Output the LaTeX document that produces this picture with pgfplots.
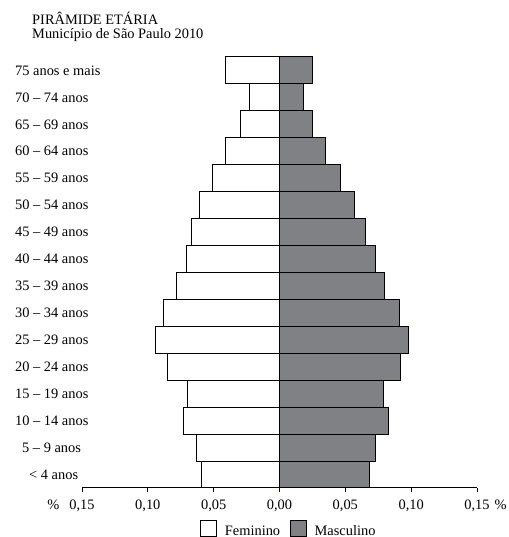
\documentclass[border=0pt]{standalone}
\usepackage{pgfplots}
\pgfplotsset{compat=1.18}
\usepackage{pgfplotstable}
\usepackage{fontspec}
\setmainfont{Liberation Serif}
\definecolor{masc}{RGB}{128,129,133}

\pgfplotsset{boxlegend/.style={legend image code/.code={\draw[##1] (0pt,-5.5pt) rectangle (16pt,10.5pt);}}}

% female values negative so they go left
\pgfplotstableread{
y fem masc
0 -0.059 0.068
1 -0.063 0.073
2 -0.073 0.083
3 -0.070 0.079
4 -0.085 0.092
5 -0.094 0.098
6 -0.088 0.091
7 -0.078 0.080
8 -0.071 0.073
9 -0.067 0.065
10 -0.061 0.057
11 -0.051 0.046
12 -0.041 0.035
13 -0.030 0.025
14 -0.023 0.018
15 -0.041 0.025
}\piramide

\begin{document}
\begin{tikzpicture}
\begin{axis}[
    at={(82pt,49pt)}, anchor=south west,
    scale only axis, width=395pt, height=431pt,
    xmin=-0.15, xmax=0.15, ymin=-0.5, ymax=15.5,
    axis x line*=bottom, axis y line*=left,
    y axis line style={draw=none},
    x axis line style={line width=1pt},
    xtick={-0.15,-0.10,-0.05,0,0.05,0.10,0.15},
    xticklabels={{\llap{\%\hspace{10pt}}0,15},{0,10},{0,05},{0,00},{0,05},{0,10},{0,15\rlap{\hspace{5pt}\%}}},
    xticklabel style={yshift=-4pt},
    x tick style={line width=1pt, black},
    tick align=outside, major tick length=4pt,
    ytick={0,...,15},
    yticklabels={{\hspace*{14pt}< 4 anos},{\hspace*{7pt}5 – 9 anos},{10 – 14 anos},{15 – 19 anos},{20 – 24 anos},{25 – 29 anos},{30 – 34 anos},{35 – 39 anos},{40 – 44 anos},{45 – 49 anos},{50 – 54 anos},{55 – 59 anos},{60 – 64 anos},{65 – 69 anos},{70 – 74 anos},{75 anos e mais}},
    y tick style={draw=none},
    yticklabel style={anchor=west, xshift=-63pt, inner xsep=0pt},
    ticklabel style={font=\fontsize{14.4}{16}\selectfont},
    legend style={at={(0.524,-0.074)}, anchor=north, draw=none, inner sep=0pt,
        legend columns=2, font=\fontsize{14.4}{16}\selectfont,
        /tikz/every odd column/.append style={column sep=5.5pt},
        /tikz/every even column/.append style={column sep=8pt}},
]
\addplot[xbar, bar width=1, bar shift=0pt, fill=white, draw=black, line width=1pt, boxlegend]
    table[x=fem, y=y] {\piramide};
\addplot[xbar, bar width=1, bar shift=0pt, fill=masc, draw=black, line width=1pt, boxlegend]
    table[x=masc, y=y] {\piramide};
\legend{Feminino, Masculino}
\end{axis}
\node[anchor=base west, inner sep=0pt, font=\fontsize{14.4}{16}\selectfont] at (32pt,512pt) {PIRÂMIDE ETÁRIA};
\node[anchor=base west, inner sep=0pt, font=\fontsize{14.4}{16}\selectfont] at (32pt,498pt) {Município de São Paulo 2010};
\pgfresetboundingbox
\path[use as bounding box] (0,0) rectangle (508pt,537pt);
\end{tikzpicture}
\end{document}
